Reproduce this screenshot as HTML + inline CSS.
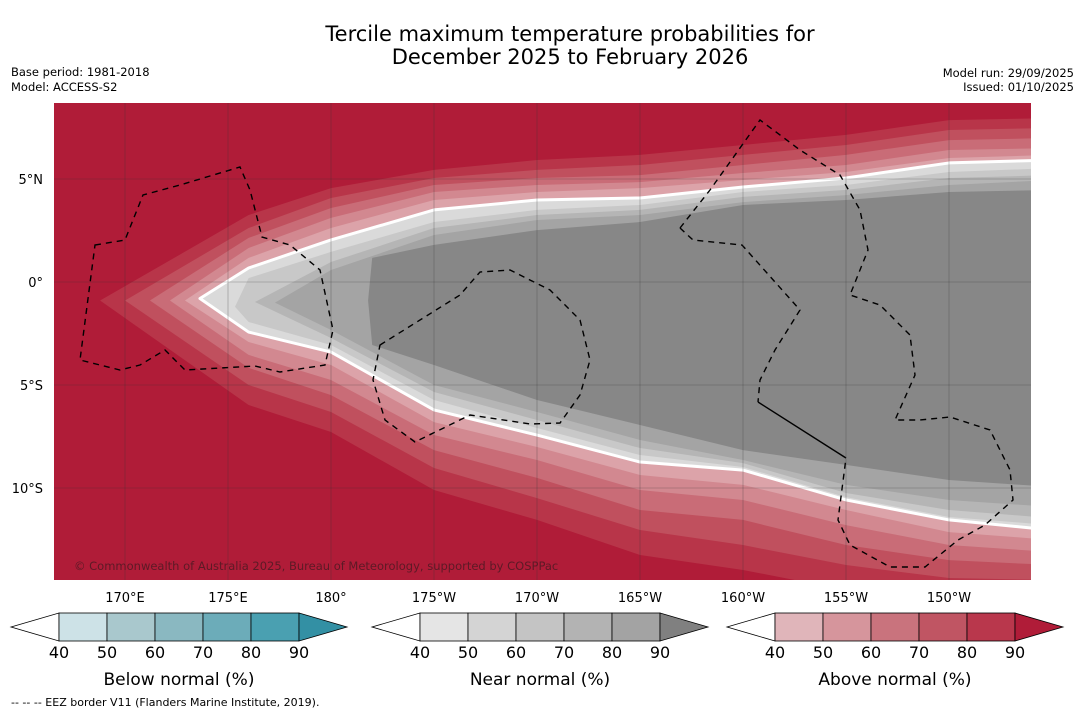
<!DOCTYPE html>
<html><head><meta charset="utf-8"><style>
body{margin:0;background:#fff;width:1085px;height:713px;overflow:hidden;font-family:"DejaVu Sans","Liberation Sans",sans-serif}
</style></head><body>
<svg id="svg" width="1085" height="713" xmlns="http://www.w3.org/2000/svg" font-family="DejaVu Sans, Liberation Sans, sans-serif">
<text x="570" y="41" font-size="21" text-anchor="middle">Tercile maximum temperature probabilities for</text>
<text x="570" y="64" font-size="21" text-anchor="middle">December 2025 to February 2026</text>
<text x="11" y="76" font-size="11.5">Base period: 1981-2018</text>
<text x="11" y="91" font-size="11.5">Model: ACCESS-S2</text>
<text x="1074" y="77" font-size="11.5" text-anchor="end">Model run: 29/09/2025</text>
<text x="1074" y="91" font-size="11.5" text-anchor="end">Issued: 01/10/2025</text>
<defs><clipPath id="mc"><rect x="54" y="103" width="977" height="477"/></clipPath></defs>
<g id="map" clip-path="url(#mc)">
<rect x="54" y="103" width="977" height="477" fill="#b01c38"/>
</g>
<g id="cbars"></g>
<text x="11" y="706" font-size="11">--  --  -- EEZ border V11 (Flanders Marine Institute, 2019).</text>
</svg>
<script>
const NS="http://www.w3.org/2000/svg";
const cols=[176,180,185,190,195,200,205,210,215];
const redTips=[168.79,170.0,171.21,172.18,172.91];
const redTop=[
[3.25,4.56,5.44,5.92,6.17,6.65,7.14,7.86,7.96],
[2.62,4.08,5.05,5.44,5.68,6.17,6.65,7.38,7.48],
[2.14,3.59,4.71,5.05,5.19,5.68,6.17,6.89,6.99],
[1.65,3.11,4.37,4.71,4.85,5.29,5.68,6.41,6.50],
[1.17,2.62,3.98,4.37,4.56,4.95,5.34,6.02,6.17]];
const redBot=[
[-5.97,-7.28,-10.10,-11.55,-13.25,-13.98,-14.95,-15.44,-15.44],
[-5.00,-6.31,-9.03,-10.49,-12.04,-12.77,-13.74,-14.37,-14.47],
[-4.17,-5.49,-8.16,-9.51,-11.07,-11.55,-12.77,-13.50,-13.74],
[-3.54,-4.76,-7.43,-8.64,-10.10,-10.58,-11.80,-12.77,-13.11],
[-2.91,-4.03,-6.80,-8.01,-9.37,-9.85,-11.07,-12.14,-12.52]];
const redColors=["#b83549","#c0505e","#c96c77","#d28890","#dca3a9"];
const whiteTip=173.64;
const whiteTop=[0.68,2.04,3.50,3.98,4.08,4.61,5.05,5.78,5.92];
const whiteBot=[-2.43,-3.40,-6.21,-7.43,-8.74,-9.13,-10.58,-11.55,-12.04];
const grayTips=[[175.34,-1.2],[176.31,-0.97],[177.28,-1.0]];
const grayTop=[
[0.19,1.46,2.91,3.50,3.74,4.37,4.71,5.34,5.53],
[null,0.97,2.62,3.25,3.50,4.13,4.47,5.05,5.19],
[null,0.58,2.28,3.01,3.25,3.88,4.22,4.71,4.95]];
const grayBot=[
[-1.94,-3.06,-5.73,-7.09,-8.40,-8.98,-10.44,-11.41,-11.80],
[null,-2.72,-5.34,-6.70,-8.06,-8.79,-10.24,-11.07,-11.46],
[null,-2.33,-5.00,-6.31,-7.67,-8.64,-9.85,-10.58,-10.92]];
const grayColors=["#c8c8c8","#b5b5b5","#a4a4a4"];
const darkTop=[1.17,1.80,2.52,2.91,3.74,3.98,4.37,4.47];
const darkBot=[-3.06,-4.03,-5.73,-6.94,-8.16,-8.88,-9.61,-9.95];
const darkLons=[182,185,190,195,200,205,210,215];
const lonTicks=[170,175,180,185,190,195,200,205,210];
const lonLabels=["170°E","175°E","180°","175°W","170°W","165°W","160°W","155°W","150°W"];
const latTicks=[5,0,-5,-10];
const latLabels=["5°N","0°","5°S","10°S"];
const X=lon=>331+(lon-180)*20.6, Y=lat=>282-lat*20.6;
const map=document.getElementById('map'), svg=document.getElementById('svg');
function poly(tip,top,bot,lons,fill,stroke,name){
  let pts=[];
  if(tip) pts.push([X(tip[0]),Y(tip[1])]);
  lons.forEach((l,i)=>{if(top[i]!=null)pts.push([X(l),Y(top[i])]);});
  for(let i=lons.length-1;i>=0;i--) if(bot[i]!=null) pts.push([X(lons[i]),Y(bot[i])]);
  const p=document.createElementNS(NS,'polygon');
  p.setAttribute('points',pts.map(a=>a.join(',')).join(' '));
  p.setAttribute('fill',fill);
  if(stroke){p.setAttribute('stroke',stroke);p.setAttribute('stroke-width','3');p.setAttribute('stroke-linejoin','round');}
  
  
  map.appendChild(p);
}
redColors.forEach((c,k)=>poly([redTips[k],-0.9],redTop[k],redBot[k],cols,c,null,'above-normal-band'));
poly([whiteTip,-0.8],whiteTop,whiteBot,cols,"#dadada","#ffffff",'near-normal-40-contour');
grayColors.forEach((c,k)=>poly(grayTips[k],grayTop[k],grayBot[k],cols,c,null,'near-normal-band'));
poly([181.8,-0.9],darkTop,darkBot,darkLons,"#878787",null,'near-normal-90-band');
const eez=["M95,245 L125,240 L143,195 L180,185 L240,167 L250,190 L262,237 L290,245 L320,270 L333,330 L325,365 L280,372 L255,366 L185,370 L165,350 L140,365 L120,370 L80,360 Z",
"M380,345 L460,295 L480,272 L510,270 L550,290 L580,320 L590,360 L580,395 L560,423 L530,424 L470,415 L415,442 L385,420 L373,380 Z",
"M680,228 L710,190 L760,120 L800,150 L840,175 L860,210 L868,250 L850,295 L880,305 L910,335 L915,375 L895,420 L920,420 L950,417 L990,430 L1010,470 L1013,500 L985,525 L958,540 L925,567 L890,567 L850,545 L838,520 L846,458",
"M680,228 L693,240 L742,245 L800,310 L775,350 L760,380 L758,402"];
eez.forEach(d=>{const p=document.createElementNS(NS,'path');p.setAttribute('d',d);p.setAttribute('fill','none');p.setAttribute('stroke','#000');p.setAttribute('stroke-width','1.4');p.setAttribute('stroke-dasharray','6,5');


map.appendChild(p);});
const sl=document.createElementNS(NS,'path');sl.setAttribute('d','M758,402 L846,458');sl.setAttribute('stroke','#000');sl.setAttribute('stroke-width','1.4');


map.appendChild(sl);
lonTicks.forEach((l,i)=>{const g=document.createElementNS(NS,'line');g.setAttribute('x1',X(l));g.setAttribute('x2',X(l));g.setAttribute('y1',103);g.setAttribute('y2',580);g.setAttribute('stroke','#333');g.setAttribute('stroke-width','0.6');g.setAttribute('opacity','0.45');


map.appendChild(g);
const t=document.createElementNS(NS,'text');t.setAttribute('x',X(l));t.setAttribute('y',602);t.setAttribute('font-size','13');t.setAttribute('text-anchor','middle');t.textContent=lonLabels[i];


svg.appendChild(t);});
latTicks.forEach((l,i)=>{const g=document.createElementNS(NS,'line');g.setAttribute('y1',Y(l));g.setAttribute('y2',Y(l));g.setAttribute('x1',54);g.setAttribute('x2',1031);g.setAttribute('stroke','#333');g.setAttribute('stroke-width','0.6');g.setAttribute('opacity','0.45');


map.appendChild(g);
const t=document.createElementNS(NS,'text');t.setAttribute('x',43);t.setAttribute('y',Y(l)+5);t.setAttribute('font-size','13');t.setAttribute('text-anchor','end');t.textContent=latLabels[i];


svg.appendChild(t);});
const cp=document.createElementNS(NS,'text');cp.setAttribute('x',74);cp.setAttribute('y',570);cp.setAttribute('font-size','11.5');cp.setAttribute('fill','#5c1a26');cp.textContent='© Commonwealth of Australia 2025, Bureau of Meteorology, supported by COSPPac';


map.appendChild(cp);
const cbStarts=[11,372,727];
const cbTitles=["Below normal (%)","Near normal (%)","Above normal (%)"];
const cbTickLabels=["40","50","60","70","80","90"];
const cbColors=[["#cde2e7","#a9c8cd","#8ab8c1","#6cacb9","#4aa0b1","#3390a4"],
["#e5e5e5","#d4d4d4","#c4c4c4","#b3b3b3","#a3a3a3","#808080"],
["#e0b5ba","#d6959c","#c9737d","#c05563","#b9374c","#b01c38"]];
const cb=document.getElementById('cbars');
cbStarts.forEach((x0,b)=>{
  const g=document.createElementNS(NS,'g');
  
  
  const y0=613,h=28,w=48,s=x0+48;
  const lt=document.createElementNS(NS,'polygon');lt.setAttribute('points',`${x0},${y0+h/2} ${s},${y0} ${s},${y0+h}`);lt.setAttribute('fill','#fff');lt.setAttribute('stroke','#000');lt.setAttribute('stroke-width','0.8');g.appendChild(lt);
  for(let i=0;i<5;i++){const r=document.createElementNS(NS,'rect');r.setAttribute('x',s+i*w);r.setAttribute('y',y0);r.setAttribute('width',w);r.setAttribute('height',h);r.setAttribute('fill',cbColors[b][i]);r.setAttribute('stroke','#000');r.setAttribute('stroke-width','0.8');g.appendChild(r);}
  const e=s+5*w;
  const rt=document.createElementNS(NS,'polygon');rt.setAttribute('points',`${e},${y0} ${e+48},${y0+h/2} ${e},${y0+h}`);rt.setAttribute('fill',cbColors[b][5]);rt.setAttribute('stroke','#000');rt.setAttribute('stroke-width','0.8');g.appendChild(rt);
  cbTickLabels.forEach((t,i)=>{const tx=document.createElementNS(NS,'text');tx.setAttribute('x',s+i*w);tx.setAttribute('y',658);tx.setAttribute('font-size','16');tx.setAttribute('text-anchor','middle');tx.textContent=t;g.appendChild(tx);});
  const tt=document.createElementNS(NS,'text');tt.setAttribute('x',s+2.5*w);tt.setAttribute('y',685);tt.setAttribute('font-size','17');tt.setAttribute('text-anchor','middle');tt.textContent=cbTitles[b];g.appendChild(tt);
  cb.appendChild(g);
});
</script>
</body></html>
